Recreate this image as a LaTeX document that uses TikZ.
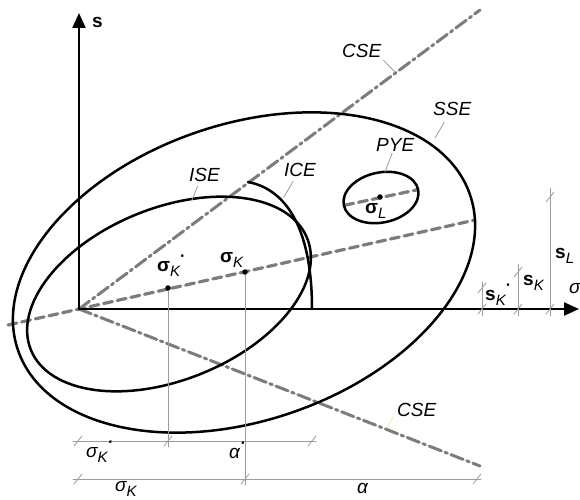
\documentclass[tikz,border=0pt]{standalone}
\usepackage{fontspec}
\setmainfont{Liberation Sans}
\usetikzlibrary{calc}
\usetikzlibrary{arrows.meta}
\definecolor{axisgray}{HTML}{7C7C7C}
\definecolor{dimgray}{HTML}{9C9C9C}
\definecolor{paleyellow}{HTML}{E6ECB0}
\newcommand{\lowidx}[1]{\raisebox{-0.3em}{\fontsize{15}{15}\selectfont\itshape #1}}
\newcommand{\topdot}{\raisebox{0.5em}{\fontsize{16}{16}\selectfont\bfseries ·}}
\tikzset{
    lab/.style={
        font=\fontsize{19}{22}\selectfont\itshape, inner sep=0pt, anchor=base west
    },
    sym/.style={
        font=\fontsize{19}{22}\selectfont, inner sep=0pt, anchor=base west
    },
    curve/.style={line width=2.5pt, black},
    meanline/.style={axisgray, line width=3.2pt, dash pattern=on 9pt off 5pt},
    critline/.style={axisgray, line width=3pt, dash pattern=on 13pt off 4pt on 2.5pt off 4pt},
    dimline/.style={dimgray, line width=0.8pt},
    leader/.style={dimgray, line width=0.8pt},
    pt/.style={circle, fill=black, inner sep=0pt, minimum size=5.5pt}
}

\begin{document}
\begin{tikzpicture}[x=1pt,y=1pt,line cap=round,line join=round]
\useasboundingbox (0,0) rectangle (580,499);

% origin, axis ends and centres
\coordinate (O) at (79,190);
\coordinate (sTop) at (79,486);
\coordinate (sigEnd) at (579,190);
\coordinate (sseC) at (244,226.5);
\coordinate (iseC) at (169,205);
\coordinate (pyeC) at (381,301.5);

% mean stress line and the axis of PYE
\draw[meanline] (8,174) -- (475,279);
\draw[meanline, rotate around={12:(pyeC)}] ($(pyeC)+(-37,0)$) -- ($(pyeC)+(37,0)$);

% critical lines CSE
\coordinate (cseTop) at (480,489);
\coordinate (cseBot) at (480,33);
\draw[critline] (O) -- (cseTop);
\draw[critline] (O) -- (cseBot);

% ellipses SSE, ISE, PYE
\draw[curve, rotate around={19:(sseC)}] (sseC) ellipse [x radius=239, y radius=148];
\draw[curve, rotate around={22:(iseC)}] (iseC) ellipse [x radius=149, y radius=86];
\draw[curve, rotate around={12:(pyeC)}] (pyeC) ellipse [x radius=38, y radius=25];

% ICE curve, from CSE down to the sigma axis
\draw[curve] (248,317) .. controls (290,309) and (312,264) .. (312,190);

% axes
\draw[line width=2.2pt, -{Triangle[length=15pt,width=13pt]}] (O) -- (sTop);
\draw[line width=2.2pt, -{Triangle[length=15pt,width=13pt]}] (O) -- (sigEnd);

% stress points
\node[pt] (sigKs) at (168,211) {};
\node[pt] (sigK) at (245,227) {};
\node[pt] (sigL) at (380,302) {};

% dimension lines below
\draw[dimline] (sigKs) -- (168,52);
\draw[dimline] (sigK) -- (245,14);
\draw[dimline] (73,58) -- (316,58);
\draw[dimline] (73,20) -- (481,20);

% dimension lines on the right
\draw[dimline] (482,183) -- (482,217);
\draw[dimline] (518,183) -- (518,235);
\draw[dimline] (550,183) -- (550,311);

% slash ticks of every dimension
\foreach \x/\y in {78/58,168/58,312/58,78/20,245/20,477/20,482/190,482/211,518/190,518/227,550/190,550/302} {
  \draw[dimline] (\x-4,\y-5) -- (\x+4,\y+5);
}

% axis labels
\node[sym] (sLab) at (92,471) {\textbf{s}};
\node[lab] (sigLab) at (569,206) {σ};

% point labels
\node[sym] (sigKsLab) at (157,228) {\textbf{σ}\lowidx{K}\topdot};
\node[sym] (sigKLab) at (220,237) {\textbf{σ}\lowidx{K}};
\node[sym] (sigLLab) at (365,286) {\textbf{σ}\lowidx{L}};
\node[sym] (sKsLab) at (485,199) {\textbf{s}\lowidx{K}\topdot};
\node[sym] (sKLab) at (523,214) {\textbf{s}\lowidx{K}};
\node[sym] (sLLab) at (555,241) {\textbf{s}\lowidx{L}};
\node[lab] (dimSigKs) at (86,42) {σ\lowidx{K}\topdot};
\node[lab] (dimAlphas) at (229,41) {α\topdot};
\node[lab] (dimSigK) at (115,8) {σ\lowidx{K}};
\node[lab] (dimAlpha) at (357,6) {α};

% curve names with leaders
\node[lab] (cseU) at (342,441) {CSE};
\node[lab] (sse) at (433,384) {SSE};
\node[lab] (pye) at (376,348) {PYE};
\node[lab] (ice) at (284,323) {ICE};
\node[lab] (ise) at (189,318) {ISE};
\node[lab] (cseL) at (397,83) {CSE};
\coordinate (cseUTip) at (395,427);
\coordinate (sseTip) at (435,361);
\coordinate (pyeTip) at (385,327);
\coordinate (iceTip) at (284,302);
\coordinate (iseTip) at (192,299);
\coordinate (cseLTip) at (387,71);
\draw[leader] ([xshift=2pt,yshift=-2pt]cseU.south east) -- (cseUTip);
\draw[leader] ([xshift=-8pt,yshift=-7pt]sse.south) -- (sseTip);
\draw[leader] ([xshift=-3pt,yshift=-2pt]pye.south) -- (pyeTip);
\draw[leader] ([xshift=-7pt,yshift=-5pt]ice.south) -- (iceTip);
\draw[leader] ([xshift=-7pt,yshift=-5pt]ise.south) -- (iseTip);
\draw[paleyellow, line width=0.8pt] ([xshift=-4pt,yshift=-1pt]cseL.south west) -- (cseLTip);

\end{tikzpicture}
\end{document}
